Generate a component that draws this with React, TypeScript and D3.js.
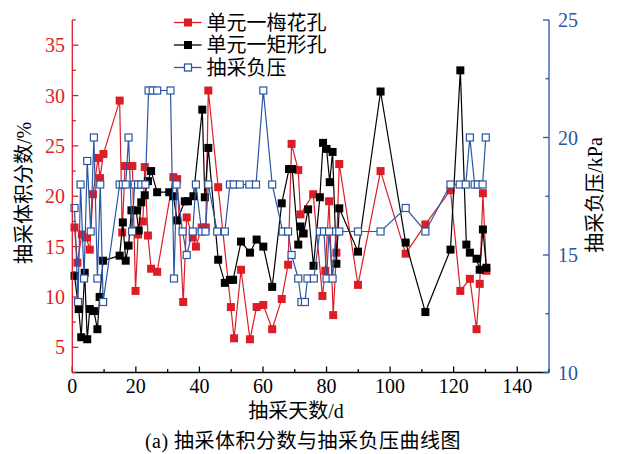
import React from "react";
import * as d3 from "d3";

// 单元一梅花孔 (left axis, %)
const plumDays = [0.7, 1.6, 3.0, 4.4, 5.5, 6.5, 8.1, 8.7, 9.8, 14.9, 15.7, 16.6, 18.9, 19.9, 20.7, 22.2, 22.8, 23.8, 24.8, 26.7, 31.8, 33.0, 34.9, 36.0, 37.9, 38.9, 40.7, 42.0, 42.8, 45.9, 49.9, 50.9, 53.1, 55.9, 58.0, 60.1, 62.9, 65.9, 67.9, 69.0, 71.1, 71.8, 75.8, 78.7, 79.6, 80.8, 82.1, 83.1, 84.0, 89.9, 97.0, 104.9, 111.1, 119.0, 122.1, 125.1, 127.2, 128.2, 129.2, 130.3];
const plumValues = [16.9, 13.4, 16.2, 15.9, 14.7, 20.2, 23.8, 21.8, 24.2, 29.5, 16.4, 23.0, 23.0, 10.6, 16.2, 17.5, 22.9, 16.1, 12.8, 12.5, 21.9, 21.7, 9.5, 17.9, 15.9, 15.0, 16.9, 16.9, 30.5, 20.9, 9.0, 5.9, 12.7, 5.8, 9.0, 9.2, 6.8, 9.8, 13.2, 25.2, 22.6, 18.2, 20.2, 10.1, 12.6, 19.5, 8.2, 14.4, 23.2, 11.2, 22.5, 14.3, 17.2, 20.6, 10.6, 11.8, 6.8, 11.3, 20.3, 12.6];

// 单元一矩形孔 (left axis, %)
const rectDays = [0.7, 2.0, 2.8, 3.9, 4.7, 5.5, 6.8, 7.9, 8.6, 9.7, 14.9, 15.9, 16.8, 17.7, 18.6, 20.1, 20.9, 21.7, 22.8, 23.8, 24.8, 26.7, 30.5, 31.8, 33.0, 35.4, 36.4, 38.1, 40.9, 41.7, 42.8, 45.9, 48.0, 49.6, 50.6, 53.1, 55.9, 58.0, 60.1, 62.9, 65.9, 68.2, 69.2, 71.1, 71.8, 72.8, 74.2, 75.9, 77.9, 78.9, 80.0, 81.0, 81.9, 83.1, 84.0, 89.9, 97.0, 104.9, 111.1, 119.0, 122.1, 124.0, 125.1, 127.2, 128.2, 129.2, 130.3];
const rectValues = [12.1, 8.8, 6.0, 12.4, 5.8, 8.8, 8.6, 6.8, 10.0, 13.6, 14.1, 17.4, 13.6, 15.1, 18.6, 18.6, 16.6, 19.4, 20.1, 21.5, 22.5, 20.4, 20.4, 20.0, 17.6, 19.5, 19.5, 20.0, 28.6, 19.9, 24.8, 13.7, 11.4, 11.7, 11.7, 15.5, 14.4, 15.7, 15.0, 11.0, 19.3, 22.7, 22.7, 15.2, 17.0, 16.3, 18.7, 13.1, 19.9, 25.3, 24.7, 21.4, 24.4, 13.3, 18.8, 14.5, 30.4, 15.4, 8.5, 14.7, 32.5, 15.2, 14.4, 13.8, 12.7, 16.7, 12.9];

// 抽采负压 (right axis, kPa)
const pressureDays = [0.7, 1.8, 2.6, 3.7, 4.7, 5.8, 6.8, 7.9, 8.8, 9.7, 14.9, 15.9, 16.8, 17.7, 18.8, 19.6, 20.7, 21.7, 23.0, 24.0, 25.3, 26.7, 30.9, 32.0, 32.8, 34.7, 36.0, 37.9, 38.9, 40.7, 41.9, 42.8, 45.6, 48.0, 49.6, 50.8, 52.7, 55.7, 57.8, 60.1, 62.9, 66.2, 67.9, 69.0, 71.1, 72.1, 73.2, 74.0, 76.0, 77.9, 79.2, 80.0, 80.8, 81.9, 83.0, 84.0, 89.9, 97.0, 104.9, 111.1, 119.0, 121.9, 123.8, 125.1, 126.6, 127.6, 129.1, 130.1];
const pressureValues = [17, 13, 18, 14, 19, 16, 20, 14, 18, 13, 18, 18, 18, 20, 16, 18, 18, 18, 18, 22, 22, 22, 22, 14, 18, 16, 15, 16, 18, 16, 16, 18, 16, 16, 18, 18, 18, 18, 18, 22, 18, 16, 16, 15, 14, 13, 13, 14, 14, 16, 16, 14, 16, 14, 16, 16, 16, 16, 17, 16, 18, 18, 18, 20, 18, 18, 18, 20];

const xMajorTicks = [0, 20, 40, 60, 80, 100, 120, 140];
const xMinorTicks = [10, 30, 50, 70, 90, 110, 130, 150];
const leftMajorTicks = [5, 10, 15, 20, 25, 30, 35];
const leftMinorTicks = [2.5, 7.5, 12.5, 17.5, 22.5, 27.5, 32.5, 37.5];
const rightMajorTicks = [10, 15, 20, 25];
const rightMinorTicks = [12.5, 17.5, 22.5];
const legendLabels = ["单元一梅花孔", "单元一矩形孔", "抽采负压"];

const RED = "#dd1d26";
const BLUE = "#2a55a3";
const BLACK = "#000";
const FONT = "'Liberation Serif', 'Noto Sans CJK SC', serif";

export default function App() {
  const W = 617, H = 454;
  const L = 72.3, R = 549, T = 20, B = 372.5;
  const x = d3.scaleLinear().domain([0, 150]).range([L, R]);
  const yL = d3.scaleLinear().domain([2.5, 37.5]).range([B, T]);
  const yR = d3.scaleLinear().domain([10, 25]).range([B, T]);

  const plum = plumDays.map((d, i) => [d, plumValues[i]] as [number, number]);
  const rect = rectDays.map((d, i) => [d, rectValues[i]] as [number, number]);
  const pres = pressureDays.map((d, i) => [d, pressureValues[i]] as [number, number]);

  const lineL = d3.line<[number, number]>().x(d => x(d[0])).y(d => yL(d[1]));
  const lineR = d3.line<[number, number]>().x(d => x(d[0])).y(d => yR(d[1]));

  const sq = 8, sqo = 7;
  const legendY = [22.5, 45, 67.5];
  const legendColors = [RED, BLACK, BLUE];

  return (
    <svg width={W} height={H} style={{ position: "absolute", left: 0, top: 0, background: "#fff" }} fontFamily={FONT}>
      <rect x={0} y={0} width={W} height={H} fill="#fff" />
      {/* series */}
      <path d={lineL(plum) || ""} fill="none" stroke={RED} strokeWidth={1.2} />
      {plum.map((d, i) => (
        <rect key={"p" + i} x={x(d[0]) - sq / 2} y={yL(d[1]) - sq / 2} width={sq} height={sq} fill={RED} />
      ))}
      <path d={lineL(rect) || ""} fill="none" stroke={BLACK} strokeWidth={1.2} />
      {rect.map((d, i) => (
        <rect key={"r" + i} x={x(d[0]) - sq / 2} y={yL(d[1]) - sq / 2} width={sq} height={sq} fill={BLACK} />
      ))}
      <path d={lineR(pres) || ""} fill="none" stroke={BLUE} strokeWidth={1.2} />
      {pres.map((d, i) => (
        <rect key={"b" + i} x={x(d[0]) - sqo / 2} y={yR(d[1]) - sqo / 2} width={sqo} height={sqo} fill="#fff" stroke={BLUE} strokeWidth={1.2} />
      ))}

      {/* x axis */}
      <line x1={L} x2={R} y1={B} y2={B} stroke="#000" strokeWidth={1.3} />
      {xMajorTicks.map(t => (
        <g key={"xt" + t}>
          <line x1={x(t)} x2={x(t)} y1={B} y2={B - 6} stroke="#000" strokeWidth={1.3} />
          <text x={x(t)} y={393} fontSize={20} textAnchor="middle" fill="#000">{t}</text>
        </g>
      ))}
      {xMinorTicks.map(t => (
        <line key={"xm" + t} x1={x(t)} x2={x(t)} y1={B} y2={B - 3.5} stroke="#000" strokeWidth={1.3} />
      ))}

      {/* left axis */}
      <line x1={L} x2={L} y1={T} y2={B} stroke={RED} strokeWidth={1.3} />
      {leftMajorTicks.map(t => (
        <g key={"lt" + t}>
          <line x1={L} x2={L + 6} y1={yL(t)} y2={yL(t)} stroke={RED} strokeWidth={1.3} />
          <text x={65} y={yL(t)} fontSize={20} textAnchor="end" dominantBaseline="central" fill={RED}>{t}</text>
        </g>
      ))}
      {leftMinorTicks.map(t => (
        <line key={"lm" + t} x1={L} x2={L + 3.5} y1={yL(t)} y2={yL(t)} stroke={RED} strokeWidth={1.3} />
      ))}

      {/* right axis */}
      <line x1={R} x2={R} y1={T} y2={B} stroke={BLUE} strokeWidth={1.3} />
      {rightMajorTicks.map(t => (
        <g key={"rt" + t}>
          <line x1={R} x2={R - 6} y1={yR(t)} y2={yR(t)} stroke={BLUE} strokeWidth={1.3} />
          <text x={558} y={yR(t)} fontSize={20} textAnchor="start" dominantBaseline="central" fill={BLUE}>{t}</text>
        </g>
      ))}
      {rightMinorTicks.map(t => (
        <line key={"rm" + t} x1={R} x2={R - 3.5} y1={yR(t)} y2={yR(t)} stroke={BLUE} strokeWidth={1.3} />
      ))}

      {/* axis titles */}
      <text transform="translate(24,193) rotate(-90)" fontSize={20} textAnchor="middle" dominantBaseline="central" fill="#000">抽采体积分数/%</text>
      <text transform="translate(595,195) rotate(-90)" fontSize={20} textAnchor="middle" dominantBaseline="central" fill="#000">抽采负压/kPa</text>
      <text x={296} y={418} fontSize={20} textAnchor="middle" fill="#000">抽采天数/d</text>
      <text x={303} y={448} fontSize={20} letterSpacing={0.5} textAnchor="middle" fill="#000">(a) 抽采体积分数与抽采负压曲线图</text>

      {/* legend */}
      {legendLabels.map((lab, i) => (
        <g key={"lg" + i}>
          <line x1={174} x2={201.5} y1={legendY[i]} y2={legendY[i]} stroke={legendColors[i]} strokeWidth={1.3} />
          {i < 2 ? (
            <rect x={188 - sq / 2} y={legendY[i] - sq / 2} width={sq} height={sq} fill={legendColors[i]} />
          ) : (
            <rect x={188 - sqo / 2} y={legendY[i] - sqo / 2} width={sqo} height={sqo} fill="#fff" stroke={BLUE} strokeWidth={1.3} />
          )}
          <text x={206.5} y={legendY[i]} fontSize={20} dominantBaseline="central" fill="#000">{lab}</text>
        </g>
      ))}
    </svg>
  );
}
